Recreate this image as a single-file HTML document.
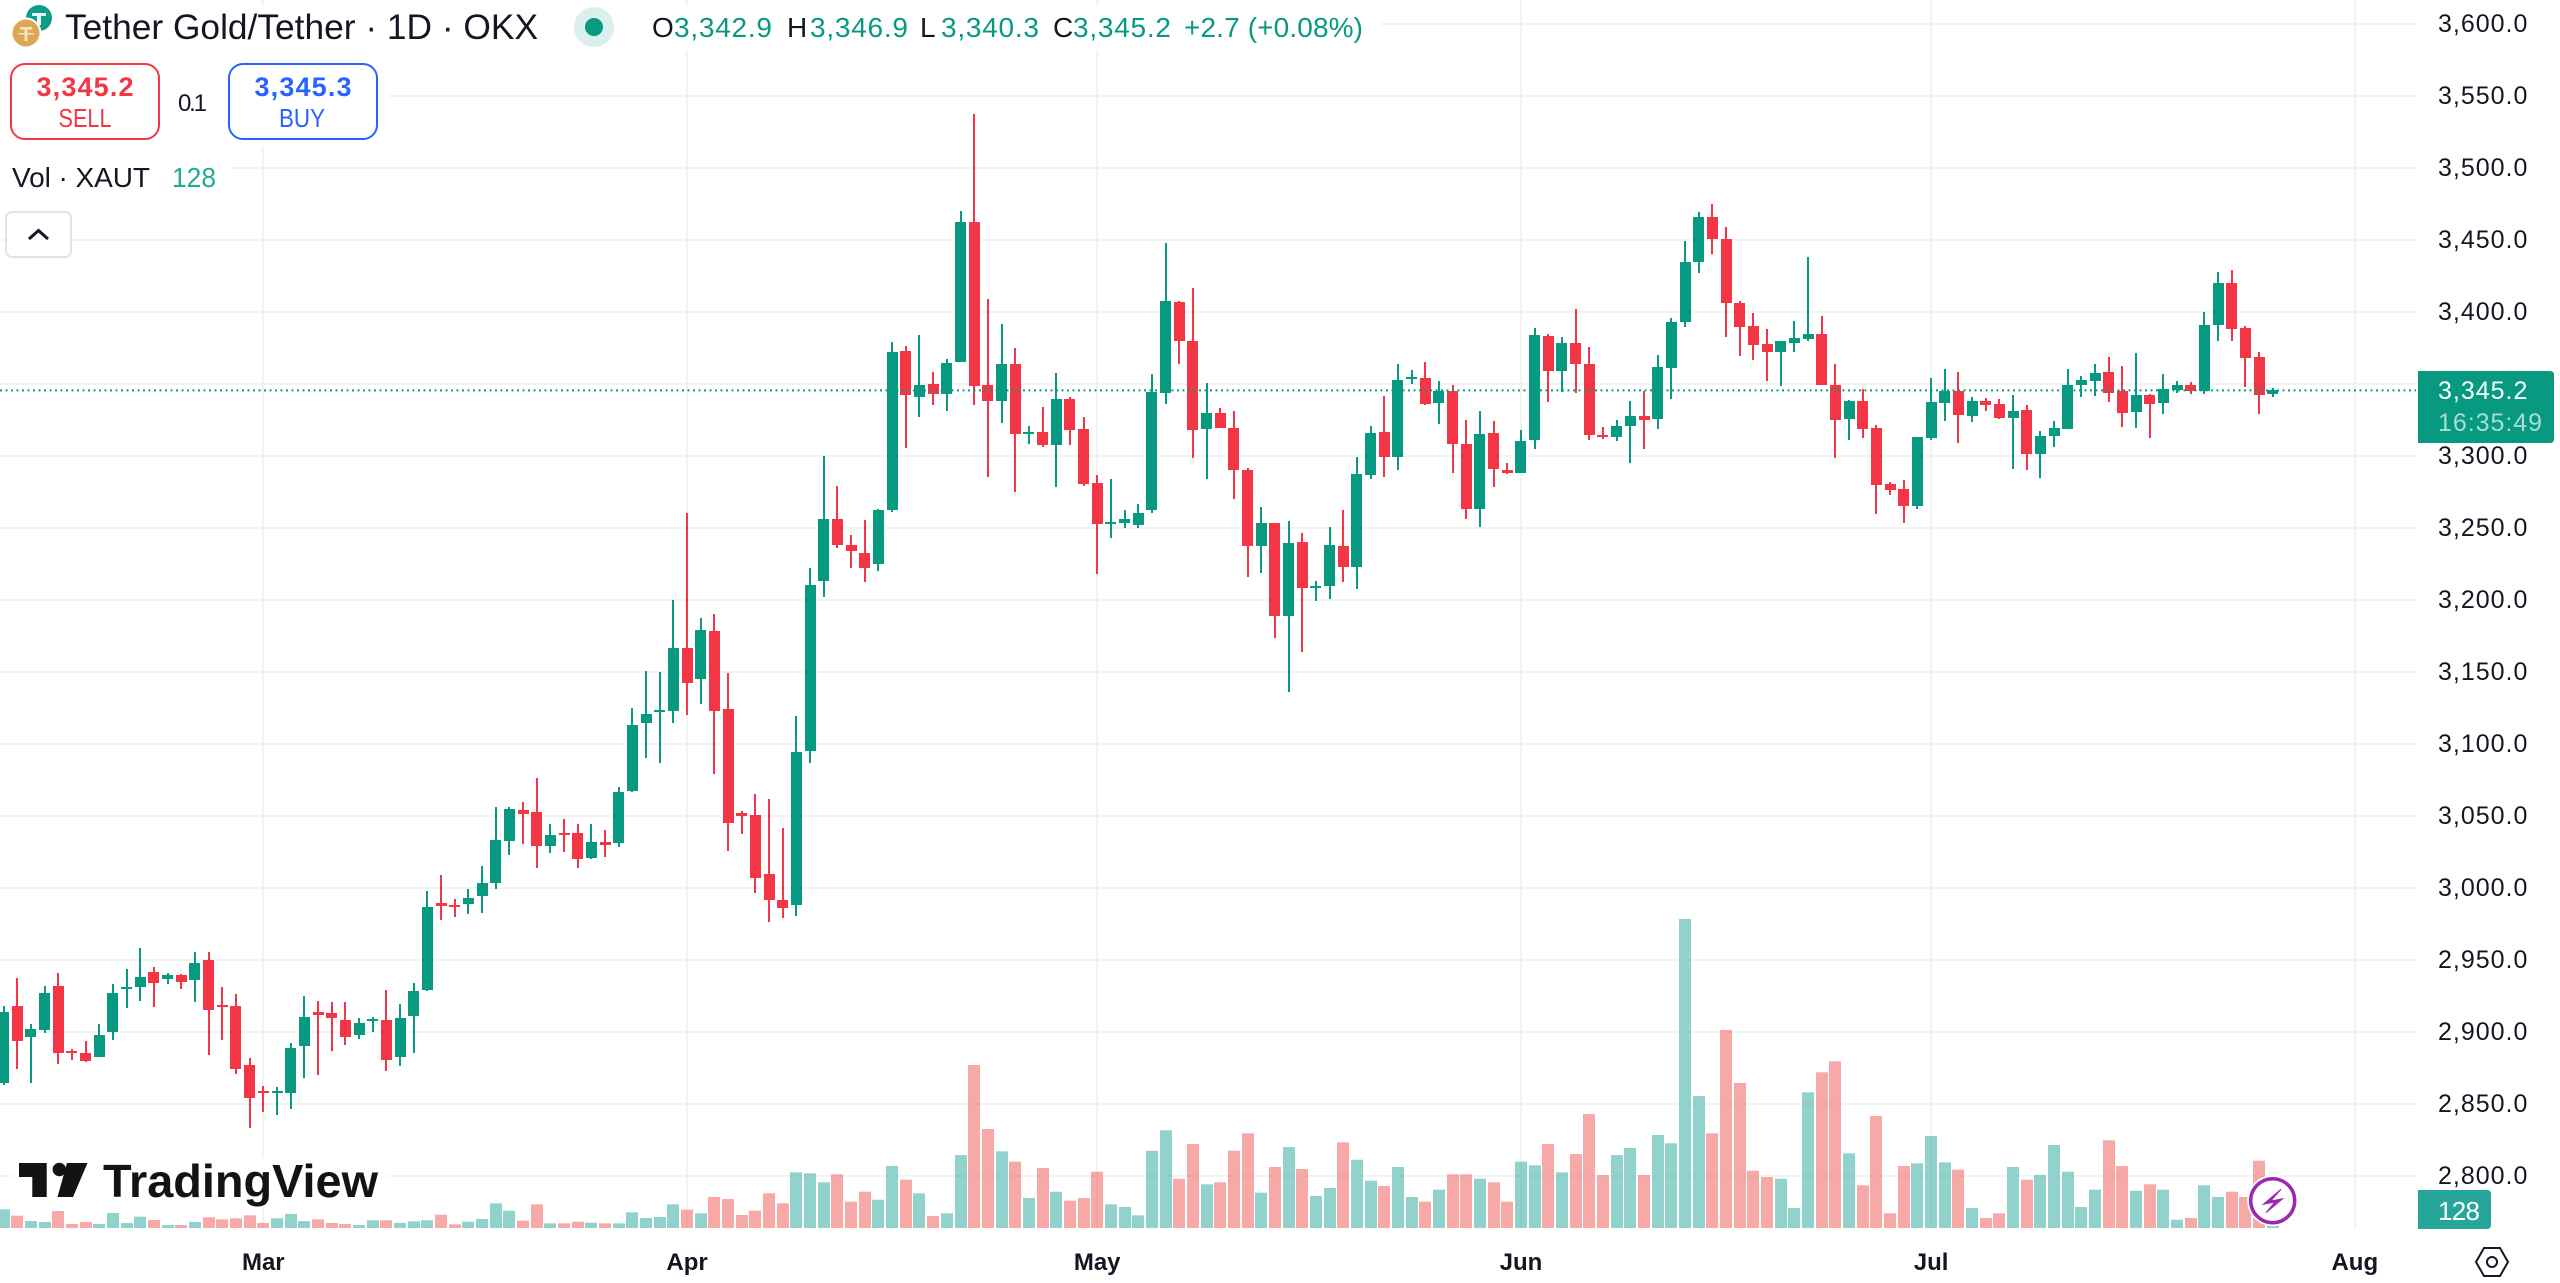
<!DOCTYPE html>
<html lang="en">
<head>
<meta charset="utf-8">
<title>Tether Gold/Tether 1D OKX chart</title>
<style>
html,body{margin:0;padding:0;background:#fff;width:2560px;height:1283px;overflow:hidden}
svg{display:block;font-family:"Liberation Sans",Arial,sans-serif}
text{white-space:pre}
</style>
</head>
<body>
<svg id="chart" xmlns="http://www.w3.org/2000/svg" width="2560" height="1283" viewBox="0 0 2560 1283">
  <rect width="2560" height="1283" fill="#fff"/>
  <g id="grid"></g>
  <g id="volumes"></g>
  <g id="candles"></g>
  <g id="priceLine"></g>

  <!-- legend backdrops -->
  <rect x="0" y="6" width="1380" height="44" fill="#fff"/>
  <rect x="0" y="50" width="388" height="96" fill="#fff"/>
  <rect x="0" y="146" width="232" height="54" fill="#fff"/>

  <!-- header -->
  <g>
    <circle cx="39" cy="18" r="13" fill="#0f9d8a"/>
    <path d="M32 13h14v3h-5v9h-4v-9h-5z" fill="#fff" opacity=".9"/>
    <circle cx="26" cy="33" r="15.5" fill="#fff"/>
    <circle cx="26" cy="33" r="13.5" fill="#dda655"/>
    <path d="M20 27h12v2.5h-4.5V41h-3V29.500H20zM18 33h16v1.500H18z" fill="#f6e3c3"/>
  </g>
  <text x="65" y="39" font-size="35" fill="#131722" textLength="473" lengthAdjust="spacingAndGlyphs">Tether Gold/Tether · 1D · OKX</text>
  <g>
    <circle cx="594" cy="27" r="20" fill="#d9f0ec"/>
    <circle cx="594" cy="27" r="9" fill="#089981"/>
  </g>
  <g font-size="28">
    <text x="652" y="37" fill="#131722">O</text>
    <text x="674" y="37" fill="#089981" textLength="98">3,342.9</text>
    <text x="787" y="37" fill="#131722">H</text>
    <text x="810" y="37" fill="#089981" textLength="98">3,346.9</text>
    <text x="920" y="37" fill="#131722">L</text>
    <text x="941" y="37" fill="#089981" textLength="98">3,340.3</text>
    <text x="1053" y="37" fill="#131722">C</text>
    <text x="1073" y="37" fill="#089981" textLength="98">3,345.2</text>
    <text x="1184" y="37" fill="#089981" textLength="179">+2.7 (+0.08%)</text>
  </g>

  <!-- sell / buy -->
  <g>
    <rect x="11" y="64" width="148" height="75" rx="14" fill="#fff" stroke="#f23645" stroke-width="2"/>
    <text x="85" y="96" font-size="27" font-weight="bold" fill="#f23645" text-anchor="middle" textLength="97">3,345.2</text>
    <text x="85" y="127" font-size="26" fill="#f23645" text-anchor="middle" textLength="53" lengthAdjust="spacingAndGlyphs">SELL</text>
  </g>
  <text x="178" y="111" font-size="24" fill="#131722" textLength="29">0.1</text>
  <g>
    <rect x="229" y="64" width="148" height="75" rx="14" fill="#fff" stroke="#2962ff" stroke-width="2"/>
    <text x="303" y="96" font-size="27" font-weight="bold" fill="#2962ff" text-anchor="middle" textLength="97">3,345.3</text>
    <text x="302" y="127" font-size="26" fill="#2962ff" text-anchor="middle" textLength="46" lengthAdjust="spacingAndGlyphs">BUY</text>
  </g>

  <!-- volume legend -->
  <text x="12" y="187" font-size="28" fill="#131722" textLength="138">Vol · XAUT</text>
  <text x="172" y="187" font-size="28" fill="#22ab94" textLength="44" lengthAdjust="spacingAndGlyphs">128</text>
  <g>
    <rect x="6" y="212" width="65" height="45" rx="6" fill="#fff" stroke="#e0e3eb" stroke-width="2"/>
    <path d="M29 239l9.500-8.500 9.500 8.500" fill="none" stroke="#131722" stroke-width="3"/>
  </g>

  <!-- tradingview logo -->
  <g>
    <rect x="12" y="1158" width="376" height="50" fill="#fff" opacity=".9"/>
    <path d="M19 1163h27.700v34H32.300v-20H19z" fill="#131313"/>
    <circle cx="59.300" cy="1169.500" r="6.700" fill="#131313"/>
    <path d="M67 1163h20.500L73 1197H57.500z" fill="#131313"/>
    <text x="103" y="1197" font-size="46" font-weight="bold" fill="#131313" textLength="275" lengthAdjust="spacingAndGlyphs">TradingView</text>
  </g>

  <!-- axes -->
  <rect x="2416" y="0" width="144" height="1283" fill="#fff"/>
  <rect x="0" y="1229" width="2560" height="54" fill="#fff"/>
  <g id="priceAxis"></g>
  <g id="timeAxis"></g>

  <!-- price tag -->
  <g>
    <path d="M2418 371h132q4 0 4 4v64q0 4-4 4h-132z" fill="#089981"/>
    <text x="2438" y="399" font-size="25" letter-spacing="1" fill="#fff">3,345.2</text>
    <text x="2438" y="431" font-size="25" fill="#a9dcd2" textLength="104">16:35:49</text>
  </g>
  <g>
    <path d="M2418 1190h69q4 0 4 4v31q0 4-4 4h-69z" fill="#26a69a"/>
    <text x="2459" y="1220" font-size="26" fill="#fff" text-anchor="middle" textLength="42">128</text>
  </g>

  <!-- bolt marker -->
  <g>
    <circle cx="2272.700" cy="1200.700" r="25.500" fill="#fff"/>
    <circle cx="2272.700" cy="1200.700" r="22" fill="#fff" stroke="#9c27b0" stroke-width="3.500"/>
    <path d="M2281 1189.300L2263.300 1204.300 2275 1202 2266 1212.700 2282.700 1198.700 2270.700 1201z" fill="#9c27b0" stroke="#9c27b0" stroke-width="1"/>
  </g>

  <!-- settings -->
  <g fill="none" stroke="#131722" stroke-width="2">
    <path d="M2476 1262l8-14h16l8 14-8 14h-16z"/>
    <circle cx="2492" cy="1262" r="5"/>
  </g>
</svg>

<script>
var openValues = [
2864,2917.7,2896.4,2901.3,2931.6,2886.4,2885.3,2882.5,2899.6,2929.7,
2931.1,2941.5,2936.7,2939.2,2935.8,2949.9,2918.4,2917.7,2876.5,2858.4,
2857,2857,2890.2,2913.3,2912.6,2908.2,2897.6,2908,2908.2,2882.5,
2911,2928.6,2989,2988.1,2988.8,2993.9,3002.9,3032.5,3053.6,3052.4,
3028.6,3038.1,3037.9,3020.3,3031.6,3030.7,3067,3114.2,3122.1,3122.8,
3166.3,3145,3178.4,3123.7,3051.5,3050.4,3009.4,2991.1,2987.6,3095,
3212.9,3256.2,3237.6,3232,3225,3262,3372.8,3340.6,3349.9,3342.5,
3364.7,3462.4,3349.2,3338.1,3363.8,3314.7,3316.3,3307.5,3339.2,3318.2,
3280.7,3252.5,3253,3252,3262.4,3343.6,3406.8,3379.8,3318.4,3329.7,
3319.3,3289.7,3237.4,3252.9,3188.8,3239.7,3208,3209.6,3237.1,3222.8,
3286.7,3316.3,3298.7,3353.1,3353.6,3336.2,3344.6,3308,3262.8,3315.6,
3289.7,3288.1,3310.8,3383.2,3358.9,3378.4,3363.8,3314.5,3312.8,3320.3,
3327.7,3325.3,3360.8,3392.5,3434.4,3465.6,3450.6,3405.7,3389.7,3377.2,
3372.1,3378.4,3380.9,3384.2,3349.2,3325.3,3337.9,3318.9,3280.2,3276.5,
3265.2,3311.9,3336.7,3344.8,3327.4,3337.9,3336,3325.8,3331.4,3301.3,
3313.3,3318.4,3348.7,3351.7,3358,3345,3330.4,3341.8,3336.2,3345.3,
3349.2,3344.8,3390.6,3420,3388.3,3368.2,3342.9];
var highValues = [
2917.7,2937.4,2905,2931.6,2940.4,2887.6,2893.6,2905,2932.7,2943.6,
2958.2,2944.6,2940.9,2940,2955,2955,2930.7,2925.8,2881.4,2862,
2861.3,2892.2,2924.4,2921.4,2920.2,2920.2,2909.4,2910,2929,2918.9,
2933.9,2997.3,3008.9,2992.2,2999.2,3014.7,3055.7,3055.7,3059.4,3075.8,
3044.3,3047.3,3044.3,3044.3,3039.7,3069.6,3124.4,3150.4,3149.9,3199.9,
3259.9,3187.2,3189.7,3149.2,3052.9,3064.9,3061.2,3041,3118.9,3221.9,
3300,3278.8,3245,3255,3263,3378.8,3375.8,3383.9,3358,3366.8,
3469.6,3537.2,3408.7,3391.6,3374.4,3320.7,3333.5,3357.5,3340.4,3326.5,
3286.5,3283.4,3262,3266,3356.8,3447.8,3407,3416.1,3350.6,3332.8,
3330.7,3291.1,3264,3253,3254.7,3246,3213.1,3250.3,3262.4,3299.2,
3320.7,3341.6,3363.8,3359.1,3364.9,3351.5,3349.2,3324.4,3330.7,3323.7,
3294.6,3317.5,3388.3,3384.6,3382.1,3401.7,3375.1,3320,3324.4,3337.6,
3344.6,3369.6,3395.3,3449.2,3469.3,3474.7,3458.7,3407.5,3399.2,3387.9,
3379.5,3393.4,3437.9,3396.7,3363.8,3338.5,3346,3321.2,3281.4,3282.8,
3312.7,3353.6,3359.8,3358,3340.9,3339.7,3339,3342,3335.3,3316.8,
3323.7,3359.8,3355,3363.8,3368.2,3361.9,3371.4,3342.9,3356.8,3351.7,
3351,3399.7,3427.7,3428.8,3390.2,3371.9,3346.9];
var lowValues = [
2862.8,2874.2,2864,2899,2877.4,2880,2879,2882.5,2893.9,2916.1,
2921,2917.2,2933.2,2929.3,2920.2,2883.7,2894.3,2870.2,2833,2844.3,
2841.8,2846.4,2868,2869.8,2886.7,2890.6,2895,2899.9,2872.8,2876,
2884.8,2927.9,2977.2,2979.7,2981.8,2982.5,2999,3022.3,3030,3013.5,
3024.2,3024.9,3013.5,3020,3021,3028.4,3066.5,3090.2,3086.7,3114,
3119.6,3127.4,3078.6,3025.6,3036.9,2996.4,2976.3,2978.6,2980.4,3086.2,
3201.5,3236,3222,3212,3220,3261,3305.2,3326.7,3334.8,3331.1,
3364.7,3334.8,3284.8,3322.8,3274.7,3308.2,3306.1,3277.9,3307.5,3279,
3218,3243,3250,3250,3260,3335.5,3363.3,3298,3283.7,3318.9,
3269.8,3215.8,3218.6,3173.5,3135.5,3163.3,3198.7,3200.1,3212.1,3207.1,
3283.7,3284.8,3289.9,3349.9,3335.3,3322.1,3287.8,3255.7,3250.1,3277.9,
3287.2,3288,3304.3,3337.4,3344.3,3343.2,3310.8,3311.5,3310.3,3295,
3304.5,3318.4,3339.2,3389.5,3426.5,3439.9,3382.3,3369.1,3366.6,3352,
3348.3,3371.6,3379.5,3348.7,3298,3310.8,3311.9,3259.6,3272.8,3253.4,
3262.6,3310.8,3324.2,3308.9,3323.5,3331.1,3325.3,3290.4,3290,3284.1,
3306.1,3318.4,3340.4,3341.6,3337.2,3320,3318.9,3311.9,3328.6,3343.2,
3342.5,3342.7,3379.8,3379.8,3347.6,3329,3340.3];
var closeValues = [
2913.3,2893.2,2901.7,2926.5,2884.8,2884.8,2879.7,2897.3,2926.5,2931.1,
2937.8,2933.7,2939.2,2934.4,2947.3,2914.7,2917,2874.2,2853.8,2857,
2858.4,2888.5,2910.1,2911.7,2909.1,2896.4,2906.1,2908.9,2880,2909.4,
2928.4,2986.7,2986.9,2986.7,2992.5,3003.1,3033,3054.3,3051.3,3028.6,
3036.7,3036.7,3019.8,3031.6,3029.3,3066.1,3113.1,3120.7,3123.3,3166.3,
3141.8,3179.1,3122.3,3044.6,3049.7,3006.4,2991.3,2985.5,3094.3,3209.9,
3256.2,3238.1,3233.7,3222,3262,3372.1,3341.8,3348.7,3342.5,3364.5,
3462.4,3348.3,3338.1,3363.8,3314.7,3316.3,3307.5,3339.2,3317.7,3280.2,
3252.3,3254,3256,3260,3344.1,3407.5,3379.8,3317.9,3329.7,3319.1,
3290,3237.4,3252.9,3188.8,3239,3207.7,3209.4,3237.8,3222.8,3287.2,
3315.6,3298.7,3352.2,3354.5,3336,3344.8,3307.8,3262.8,3314.9,3290.6,
3288.1,3309.8,3383.9,3358.9,3378.4,3363.3,3314,3312.8,3320.7,3327.7,
3324.9,3361.2,3392.9,3434.6,3465.6,3450.6,3405.7,3389.2,3376.7,3372.1,
3379.5,3381.6,3384.2,3348.7,3324.7,3337.9,3318.4,3279.3,3276,3264.7,
3312.6,3337.2,3344.8,3327.9,3337.9,3335.3,3325.8,3330.9,3301.3,3313.8,
3318.9,3348.7,3352.4,3357.5,3343.6,3329.7,3341.8,3335.5,3346,3349.2,
3344.8,3390.9,3420,3388.1,3367.9,3341.8,3345.2];
var volumeValues = [
935,615,350,300,850,200,300,200,750,250,
565,400,150,150,300,535,435,485,635,250,
485,700,350,435,250,200,150,385,385,250,
335,385,665,185,315,450,1235,865,365,1185,
235,235,315,265,235,235,785,500,550,1185,
915,735,1550,1450,650,865,1735,1235,2785,2735,
2285,2685,1315,1815,1415,3100,2415,1735,600,735,
3650,8150,4950,3835,3315,1500,3000,1815,1365,1500,
2815,1185,1050,635,3865,4885,2465,4200,2185,2285,
3865,4735,1765,3050,4050,2950,1600,2000,4285,3415,
2365,2100,3050,1550,1315,1915,2685,2685,2465,2285,
1315,3315,3135,4200,2785,3700,5700,2650,3650,4000,
2650,4650,4235,15450,6600,4735,9900,7250,2865,2550,
2465,1000,6785,7785,8335,3735,2135,5600,735,3100,
3235,4600,3285,2915,1000,500,735,3050,2415,2650,
4150,2815,1050,1915,4385,3100,1865,2185,1915,415,
500,2135,1550,1815,1550,3365,128];
var priceTicks = [3600,3550,3500,3450,3400,3350,3300,3250,3200,3150,3100,3050,3000,2950,2900,2850,2800];
var hiddenPriceLabels = [3350];
var monthLabels = ['Mar','Apr','May','Jun','Jul','Aug'];
var monthStartIndex = [19,50,80,111,141,172];
var lastPrice = 3345.2;

var SVGNS = 'http://www.w3.org/2000/svg';
var BAR_STEP = 13.67, BAR_ORIGIN = 3.6;
var PANE_RIGHT = 2416, PANE_BOTTOM = 1228;
function xScale(i){ return BAR_ORIGIN + BAR_STEP * i; }
function yScale(p){ return 23.5 + (3600 - p) * 1.44; }
function volHeight(v){ return v / 50; }
function fmtPrice(p){
  var s = p.toFixed(1);
  return s.charAt(0) + ',' + s.slice(1);
}
function mk(tag, parent){
  var el = document.createElementNS(SVGNS, tag);
  parent.appendChild(el);
  return el;
}
function setA(el, k, v){ el.setAttribute(k, v); }

var gridG = document.getElementById('grid');
priceTicks.forEach(function(p){
  var r = mk('rect', gridG);
  
  
  setA(r,'x',0); setA(r,'y',Math.round(yScale(p))-1); setA(r,'width',PANE_RIGHT); setA(r,'height',2); setA(r,'fill','#f2f4f4');
});
monthStartIndex.forEach(function(i){
  var r = mk('rect', gridG);
  
  
  setA(r,'x',Math.round(xScale(i))-1); setA(r,'y',0); setA(r,'width',2); setA(r,'height',PANE_BOTTOM); setA(r,'fill','#f2f3f5');
});

var volG = document.getElementById('volumes');
volumeValues.forEach(function(v,i){
  var up = closeValues[i] >= openValues[i];
  var h = volHeight(v);
  var r = mk('rect', volG);
  
  
  setA(r,'x',Math.round(xScale(i)-6)); setA(r,'y',(PANE_BOTTOM-h).toFixed(1)); setA(r,'width',12); setA(r,'height',h.toFixed(1));
  setA(r,'fill', up ? 'rgba(38,166,154,0.5)' : 'rgba(239,83,80,0.5)');
});

var candleG = document.getElementById('candles');
openValues.forEach(function(o,i){
  var c = closeValues[i], up = c >= o, col = up ? '#089981' : '#f23645';
  var x = xScale(i);
  var g = mk('g', candleG);
  
  
  var w = mk('rect', g);
  
  
  var yh = Math.round(yScale(highValues[i])), yl = Math.round(yScale(lowValues[i]));
  setA(w,'x',Math.round(x-1)); setA(w,'y',yh); setA(w,'width',2); setA(w,'height',Math.max(1,yl-yh)); setA(w,'fill',col);
  var b = mk('rect', g);
  
  
  var yt = Math.round(yScale(Math.max(o,c))), yb = Math.round(yScale(Math.min(o,c)));
  setA(b,'x',Math.round(x-5.5)); setA(b,'y',yt); setA(b,'width',11); setA(b,'height',Math.max(2,yb-yt)); setA(b,'fill',col);
});

var plG = document.getElementById('priceLine');
var pl = mk('line', plG);


setA(pl,'x1',0); setA(pl,'x2',PANE_RIGHT); setA(pl,'y1',yScale(lastPrice).toFixed(1)); setA(pl,'y2',yScale(lastPrice).toFixed(1));
setA(pl,'stroke','#089981'); setA(pl,'stroke-width',2); setA(pl,'stroke-dasharray','2 3.5');

var paG = document.getElementById('priceAxis');
priceTicks.forEach(function(p){
  if (hiddenPriceLabels.indexOf(p) >= 0) return;
  var t = mk('text', paG);
  
  
  setA(t,'x',2438); setA(t,'y',Math.round(yScale(p))+8); setA(t,'font-size',25); setA(t,'letter-spacing',1); setA(t,'fill','#131722');
  t.textContent = fmtPrice(p);
});

var taG = document.getElementById('timeAxis');
monthLabels.forEach(function(m,k){
  var t = mk('text', taG);
  
  
  setA(t,'x',xScale(monthStartIndex[k]).toFixed(1)); setA(t,'y',1270); setA(t,'font-size',24); setA(t,'font-weight','bold'); setA(t,'fill','#131722'); setA(t,'text-anchor','middle');
  t.textContent = m;
});
</script>
</body>
</html>
